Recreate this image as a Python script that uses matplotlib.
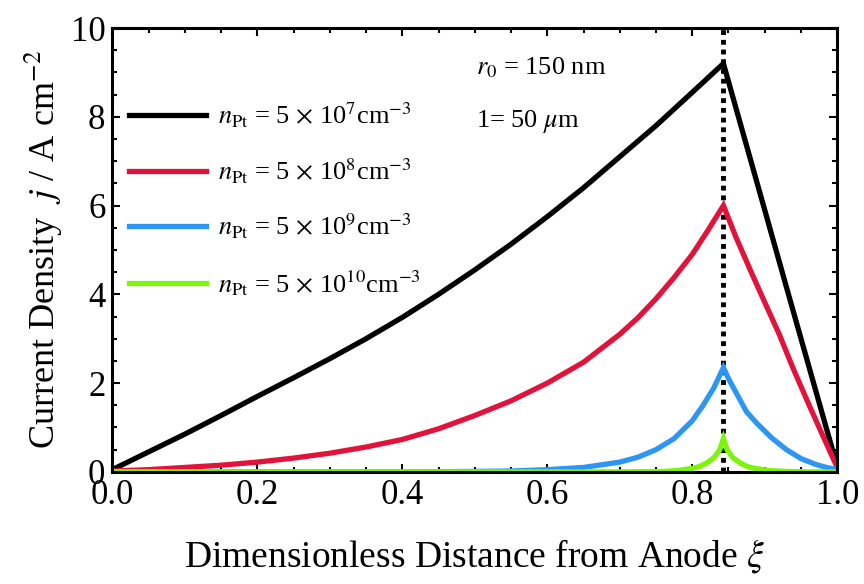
import matplotlib
matplotlib.use('Agg')
import matplotlib.pyplot as plt
from matplotlib.ticker import MultipleLocator, FormatStrFormatter

plt.rcParams['font.family'] = ['Liberation Serif', 'DejaVu Serif']
plt.rcParams['mathtext.fontset'] = 'stix'

# Datos (xi, j)
xi_black = [0.0, 0.05, 0.1, 0.15, 0.2, 0.25, 0.3, 0.35, 0.4, 0.45, 0.5, 0.55,
            0.6, 0.65, 0.7, 0.75, 0.8, 0.843, 0.9, 0.935, 1.0]
j_black = [0.05, 0.45, 0.85, 1.27, 1.7, 2.12, 2.55, 3.0, 3.48, 4.0, 4.55, 5.13,
           5.75, 6.4, 7.1, 7.8, 8.55, 9.2, 5.9, 3.87, 0.12]

xi_red = [0.0, 0.05, 0.1, 0.15, 0.2, 0.25, 0.3, 0.35, 0.4, 0.45, 0.5, 0.55,
          0.6, 0.65, 0.7, 0.725, 0.75, 0.775, 0.8, 0.82, 0.843,
          0.86, 0.88, 0.9, 0.92, 0.94, 0.96, 0.98, 1.0]
j_red = [0.02, 0.05, 0.1, 0.15, 0.22, 0.31, 0.42, 0.56, 0.73, 0.97, 1.27, 1.6,
         2.0, 2.47, 3.1, 3.47, 3.9, 4.38, 4.9, 5.4, 6.0,
         5.3, 4.55, 3.82, 3.1, 2.3, 1.55, 0.82, 0.1]

xi_blue = [0.0, 0.4, 0.5, 0.55, 0.6, 0.65, 0.7, 0.725, 0.75, 0.775, 0.8, 0.815,
           0.83, 0.843,
           0.85, 0.86, 0.875, 0.89, 0.91, 0.93, 0.95, 0.97, 0.985, 1.0]
j_blue = [0.0, 0.0, 0.01, 0.02, 0.05, 0.1, 0.22, 0.33, 0.5, 0.75, 1.15, 1.5,
          1.9, 2.35,
          2.1, 1.8, 1.35, 1.08, 0.76, 0.5, 0.3, 0.17, 0.1, 0.05]

xi_green = [0.0, 0.7, 0.76, 0.78, 0.8, 0.81, 0.82, 0.83, 0.838, 0.843,
            0.848, 0.856, 0.866, 0.876, 0.886, 0.906, 0.93, 0.96, 1.0]
j_green = [0.0, 0.0, 0.01, 0.03, 0.08, 0.12, 0.2, 0.32, 0.5, 0.75,
           0.5, 0.32, 0.2, 0.12, 0.08, 0.03, 0.01, 0.0, 0.0]

xi_peak = 0.843

labels = [r'$n_{\mathrm{Pt}}$ = 5 $\times$ 10$^{7}$cm$^{-3}$',
          r'$n_{\mathrm{Pt}}$ = 5 $\times$ 10$^{8}$cm$^{-3}$',
          r'$n_{\mathrm{Pt}}$ = 5 $\times$ 10$^{9}$cm$^{-3}$',
          r'$n_{\mathrm{Pt}}$ = 5 $\times$ 10$^{10}$cm$^{-3}$']
colors = ['black', '#e2133b', '#2d96f3', '#7cf50a']

fig = plt.figure(figsize=(8.64, 5.84), dpi=100)
ax = fig.add_axes([0.13, 0.192, 0.839, 0.76])

ax.axvline(xi_peak, color='black', linestyle=(0, (1, 1)), linewidth=3.5, zorder=1)

series = [(xi_black, j_black), (xi_red, j_red), (xi_blue, j_blue), (xi_green, j_green)]
for (xs, ys), c, lab in zip(series, colors, labels):
    ax.plot(xs, ys, color=c, linewidth=3.8, label=lab, solid_joinstyle='miter', zorder=2)

ax.set_xlim(0, 1)
ax.set_ylim(0, 10)
ax.xaxis.set_major_locator(MultipleLocator(0.2))
ax.xaxis.set_minor_locator(MultipleLocator(0.05))
ax.yaxis.set_major_locator(MultipleLocator(2))
ax.yaxis.set_minor_locator(MultipleLocator(0.5))
ax.xaxis.set_major_formatter(FormatStrFormatter('%.1f'))
ax.tick_params(which='both', direction='in', top=True, right=True, labelsize=25, width=1.5)
ax.tick_params(which='major', length=6, pad=5)
ax.tick_params(which='minor', length=3.5)
for s in ax.spines.values():
    s.set_linewidth(2.2)

ax.set_xlabel(r'Dimensionless Distance from Anode $\xi$', fontsize=27, labelpad=18)
ax.set_ylabel(r'Current Density  $j$ / A cm$^{-2}$', fontsize=26, labelpad=4)

ax.text(0.502, 9.1, r'$r_0$ = 150 nm', fontsize=19, va='center')
ax.text(0.502, 7.9, r'1= 50 $\mu$m', fontsize=19, va='center')

ax.legend(loc='upper left', bbox_to_anchor=(0.0, 0.875), frameon=False, fontsize=19,
          handlelength=2.9, handletextpad=0.45, labelspacing=1.0, borderaxespad=0.25)

fig.savefig('out.png', dpi=100)
